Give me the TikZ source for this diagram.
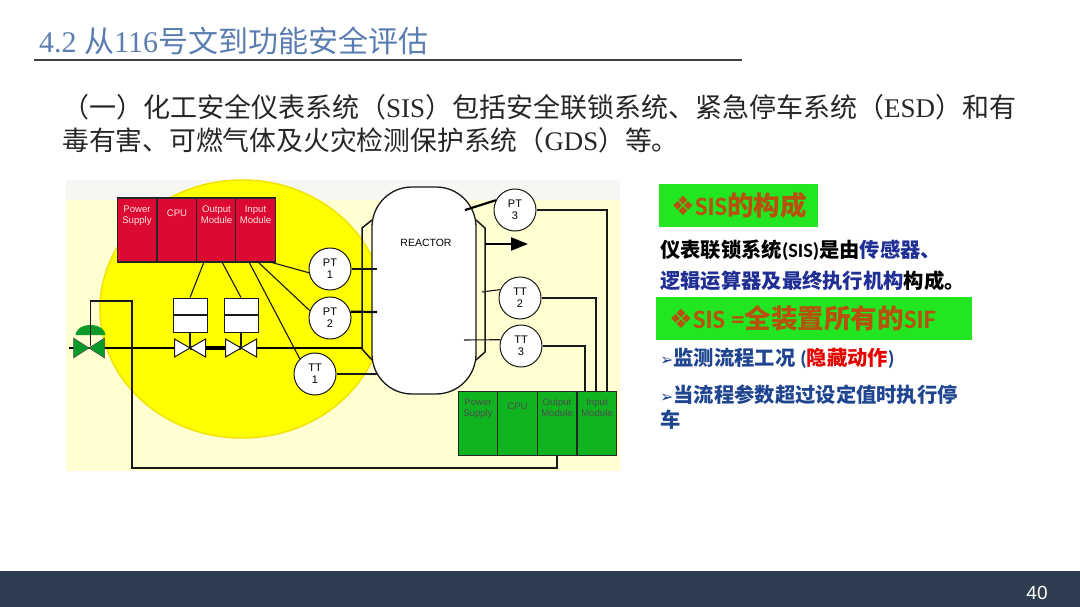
\documentclass[tikz,border=0pt]{standalone}
\usepackage{fontspec}
\usetikzlibrary{arrows.meta}
\setmainfont{Liberation Serif}
\setsansfont{Liberation Sans}
\newfontfamily\cjk{Noto Sans CJK SC}
\newfontfamily\symb{DejaVu Sans}
\newfontfamily\carl{Carlito}
\newcommand{\zh}[1]{{\cjk #1}}
\newcommand{\la}[1]{{\carl #1}}
\definecolor{paneyellow}{HTML}{FFFFD2}
\definecolor{panetop}{HTML}{F6F6F2}
\definecolor{sunyellow}{HTML}{FFFF00}
\definecolor{sunedge}{HTML}{F2E200}
\definecolor{modred}{HTML}{DC0A32}
\definecolor{modgreen}{HTML}{10B420}
\definecolor{valvegreen}{HTML}{0A9A2A}
\definecolor{boxgreen}{HTML}{22E622}
\definecolor{headorange}{HTML}{B8500F}
\definecolor{titleblue}{HTML}{5B7DB1}
\definecolor{textblue}{HTML}{1F2F96}
\definecolor{listblue}{HTML}{1F4590}
\definecolor{footdark}{HTML}{2E3D4F}
\tikzset{
  module/.style={draw=black!85,line width=1.4pt,minimum width=39.5pt,minimum height=64pt,inner sep=0pt},
  modtext/.style={font=\sffamily\fontsize{9.6}{11.2}\selectfont,align=center,anchor=north,inner sep=0pt},
  trans/.style={circle,draw=black!90,fill=white,line width=1pt,minimum size=42pt,inner sep=0pt,align=center,font=\sffamily\fontsize{11}{12}\selectfont},
  actbox/.style={draw=black!90,fill=white,line width=1pt,minimum width=34pt,minimum height=34pt,inner sep=0pt},
  wire/.style={draw=black!90,line width=1.1pt},
  pipe/.style={draw=black,line width=2.8pt},
  headbox/.style={fill=boxgreen,minimum height=43pt,inner sep=0pt},
  headtext/.style={font=\bfseries\fontsize{26.6}{27}\selectfont,text=headorange,anchor=west,inner sep=0pt},
  sidetext/.style={font=\bfseries\fontsize{20.3}{21}\selectfont,anchor=west,inner sep=0pt},
  bodytext/.style={font=\fontsize{27}{27}\selectfont,text=black!85,anchor=west,inner sep=0pt}
}
\begin{document}
\begin{tikzpicture}[x=1pt,y=-1pt]
\useasboundingbox (0,0) rectangle (1080,607);
\fill[white] (0,0) rectangle (1080,607);
\fill[footdark] (0,571) rectangle (1080,607);
\node[text=white,font=\sffamily\fontsize{19}{19}\selectfont,inner sep=0pt] (pagenum) at (1037,593) {40};
\node[font=\fontsize{30}{30}\selectfont,text=titleblue,anchor=west,inner sep=0pt] (headline) at (39,41) {4.2 \zh{从}116\zh{号文到功能安全评估}};
\coordinate (rulea) at (34,60);
\coordinate (ruleb) at (742,60);
\draw[black!75,line width=1.4pt] (rulea)--(ruleb);
\node[bodytext] (bodyone) at (62,107) {\zh{（一）化工安全仪表系统（}SIS\zh{）包括安全联锁系统、紧急停车系统（}ESD\zh{）和有}};
\node[bodytext,font=\fontsize{26.8}{27}\selectfont] (bodytwo) at (62,140) {\zh{毒有害、可燃气体及火灾检测保护系统（}GDS\zh{）等。}};
% yellow panel
\fill[paneyellow] (66,180) rectangle (620,471);
\fill[panetop] (66,180) rectangle (620,200);
\draw[fill=sunyellow,draw=sunedge,line width=1.5pt] (242,309) ellipse [x radius=142pt,y radius=129pt];
% modules
\foreach \n/\x/\t/\s in {redpower/137/{Power\\Supply}/-8,redcpu/177/{CPU}/-12,redout/216.5/{Output\\Module}/-8,redin/255.5/{Input\\Module}/-8}{
  \node[module,fill=modred,label={[modtext,text=red!12,yshift=\s pt]north:\t}] (\n) at (\x,230) {};
}
\foreach \n/\x/\t/\s in {grnpower/478/{Power\\Supply}/-8,grncpu/517.5/{CPU}/-12,grnout/557/{Output\\Module}/-8,grnin/597/{Input\\Module}/-8}{
  \node[module,fill=modgreen,label={[modtext,text=black!70,yshift=\s pt]north:\t}] (\n) at (\x,423.5) {};
}
% pipe and valves
\coordinate (pipestart) at (69,348);
\coordinate (pipeend) at (362,348);
\coordinate (vgreen) at (89,348);
\coordinate (vone) at (190,348);
\coordinate (vtwo) at (241,348);
\draw[pipe] (pipestart)--(pipeend);
\draw[draw=black,line width=4.4pt] (vone)--(vtwo);
\node[actbox] (actone) at (190,315) {};
\node[actbox] (acttwo) at (241,315) {};
\foreach \a/\v in {actone/vone,acttwo/vtwo}{
  \draw[wire] (\a.west)--(\a.east);
  \draw[wire] (\a)--(\v);
  \draw[fill=white,draw=black!90,line width=1pt] (\v)++(-15.5,-9)--++(0,18)--++(31,-18)--++(0,18)--cycle;
}
\fill[valvegreen,draw=black!70,line width=0.5pt] (vgreen)++(-15.5,-10)--++(0,20)--++(31,-20)--++(0,20)--cycle;
\coordinate (domel) at (75.5,335);
\fill[valvegreen] (domel) arc [start angle=180,end angle=0,x radius=15pt,y radius=10pt]--cycle;
\coordinate (domet) at (90.5,325);
\coordinate (stembot) at (90.5,346);
\draw[wire] (domet)--(stembot);
% output line
\coordinate (looptop) at (132,301);
\coordinate (loopbot) at (132,468);
\draw[wire] (domet)--(domet|-looptop)--(looptop)--(loopbot)--(loopbot-|grnout)--(grnout.south);
% reactor
\node[trans] (ttone) at (315,374) {TT\\1};
\coordinate (ttoneend) at (385,374);
\draw[wire] (ttone)--(ttoneend);
\draw[draw=black!90,line width=1.5pt] (372,220)--(362,228)--(362,349)--(372,360);
\draw[draw=black!90,line width=1.5pt] (476,220)--(485,228)--(485,352)--(476,360);
\node[draw=black!90,fill=white,line width=1.3pt,minimum width=104pt,minimum height=207pt,rounded corners=40pt,inner sep=0pt] (reactor) at (424,290.5) {};
\node[font=\sffamily\fontsize{10.5}{11}\selectfont,inner sep=0pt] (reactorname) at (426,243) {REACTOR};
\coordinate (jacketout) at (485,244);
\coordinate (flowtip) at (528,244);
\draw[line width=2.4pt,-{Triangle[length=17pt,width=13pt]}] (jacketout)--(flowtip);
% transmitters
\node[trans] (ptone) at (330,269) {PT\\1};
\node[trans] (pttwo) at (330,318) {PT\\2};
\node[trans] (ptthree) at (515,210) {PT\\3};
\node[trans] (tttwo) at (520,298) {TT\\2};
\node[trans] (ttthree) at (521,346) {TT\\3};
\coordinate (tapone) at (377,269);
\coordinate (taptwo) at (377,312);
\coordinate (tapthree) at (465,210);
\coordinate (tapfour) at (482,292);
\coordinate (tapfive) at (464,340);
\draw[wire] (ptone.east)--(tapone);
\draw[line width=2.2pt] (pttwo.17)--(taptwo);
\draw[line width=2.2pt] (tapthree)--(ptthree.153);
\draw[wire] (tapfour)--(tttwo.157);
\draw[wire] (tapfive)--(ttthree.163);
\foreach \n/\x in {reda/204,redb/222,redc/249,redd/258,rede/270}{\coordinate (\n) at (\x,262);}
\draw[wire] (reda)--(actone.north);
\draw[wire] (redb)--(acttwo.north);
\draw[wire] (redc)--(ttone.north west);
\draw[wire] (redd)--(pttwo.160);
\draw[wire] (rede)--(ptone.190);
\coordinate (grna) at (607,392);
\coordinate (grnb) at (596,392);
\coordinate (grnc) at (585,392);
\draw[wire] (ptthree.east)--(ptthree.east-|grna)--(grna);
\draw[wire] (tttwo.east)--(tttwo.east-|grnb)--(grnb);
\draw[wire] (ttthree.east)--(ttthree.east-|grnc)--(grnc);
% right column
\node[headbox,minimum width=159pt] (boxone) at (738.5,205.5) {};
\node[headtext] (boxonetext) at (671,205.5) {{\symb\char"2756}\la{SIS}\zh{的构成}};
\node[sidetext] (sideone) at (660,250) {\zh{仪表联锁系统}\la{(SIS)}\zh{是由}\textcolor{textblue}{\zh{传感器、}}};
\node[sidetext,text=textblue] (sidetwo) at (660,281) {\zh{逻辑运算器及最终执行机构}\textcolor{black}{\zh{构成。}}};
\node[headbox,minimum width=316pt] (boxtwo) at (814,318.5) {};
\node[headtext] (boxtwotext) at (669,318.5) {{\symb\char"2756}\la{SIS =}\zh{全装置所有的}\la{SIF}};
\node[sidetext,text=listblue] (listone) at (660,358) {{\symb\fontsize{16}{16}\selectfont\char"27A2}\zh{监测流程工况} \la{(}\textcolor{red!90!black}{\zh{隐藏动作}}\la{)}};
\node[sidetext,text=listblue] (listtwo) at (660,395) {{\symb\fontsize{16}{16}\selectfont\char"27A2}\zh{当流程参数超过设定值时执行停}};
\node[sidetext,text=listblue] (listthree) at (660,420) {\zh{车}};
\end{tikzpicture}
\end{document}
